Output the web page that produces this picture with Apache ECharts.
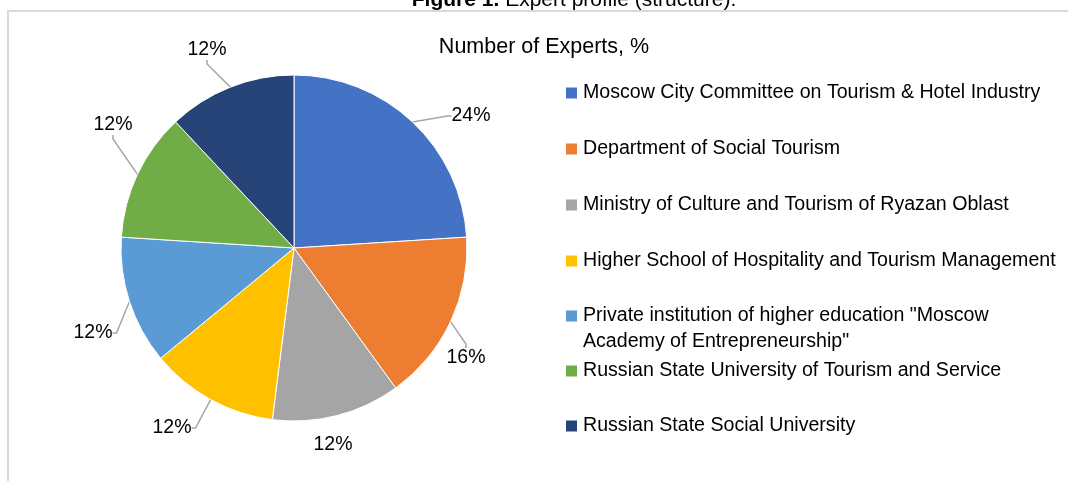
<!DOCTYPE html>
<html lang="en">
<head>
    <meta charset="UTF-8">
    <title>Expert profile</title>
    <script type="text/javascript" src="https://cdn.jsdelivr.net/npm/echarts@6/dist/echarts.min.js"></script>
    <style>
        html, body { margin: 0; padding: 0; background: #fff; }
    </style>
</head>
<body>
<div id="main" style="width: 1068px;height:481px;"></div>
<script>
    // organisations and their share of experts, %
    var orgs = [
        'Moscow City Committee on Tourism & Hotel Industry',
        'Department of Social Tourism',
        'Ministry of Culture and Tourism of Ryazan Oblast',
        'Higher School of Hospitality and Tourism Management',
        'Private institution of higher education "Moscow Academy of Entrepreneurship"',
        'Russian State University of Tourism and Service',
        'Russian State Social University'
    ];
    var shares = [24, 16, 12, 12, 12, 12, 12];

    var colors = ['#4472C4', '#ED7D31', '#A5A5A5', '#FFC000', '#5B9BD5', '#70AD47', '#264478'];
    // no narrow arial here, so plain Liberation Sans sized to match the widths
    var font = "'Liberation Sans', Arial, sans-serif";

    // where excel put the data labels (label centres)
    var labelSpots = [[471, 116], [466, 358], [333, 445], [172, 428], [93, 333], [113, 125], [207, 50]];

    var pieData = [];
    for (var i = 0; i < orgs.length; i++) {
        var item = { name: orgs[i], value: shares[i] };
        if (i === 2) item.labelLine = { show: false };
        pieData.push(item);
    }

    var legendText = { fontFamily: font, fontSize: 19.6, color: '#000', lineHeight: 26 };

    var option = {
        color: colors,
        animation: false,
        title: {
            text: 'Number of Experts, %',
            left: 544,
            top: 36,
            textAlign: 'center',
            padding: 0,
            textStyle: { fontFamily: font, fontSize: 21.5, fontWeight: 'normal', color: '#000' }
        },
        legend: [
            {
                orient: 'vertical', left: 564, top: 80, padding: 0,
                itemWidth: 13, itemHeight: 13, itemGap: 30, icon: 'rect',
                selectedMode: false,
                data: orgs.slice(0, 4),
                textStyle: legendText
            },
            {
                // blank first line so the square sits beside the first text line
                orient: 'vertical', left: 564, top: 277, padding: 0,
                itemWidth: 13, itemHeight: 13, icon: 'rect',
                selectedMode: false,
                data: orgs.slice(4, 5),
                formatter: function (name) {
                    return ' \n' + name.replace('"Moscow ', '"Moscow\n');
                },
                textStyle: legendText
            },
            {
                orient: 'vertical', left: 564, top: 358, padding: 0,
                itemWidth: 13, itemHeight: 13, itemGap: 29, icon: 'rect',
                selectedMode: false,
                data: orgs.slice(5),
                textStyle: legendText
            }
        ],
        graphic: [
            {
                type: 'rect',
                shape: { x: 8, y: 11, width: 1200, height: 600 },
                style: { fill: 'none', stroke: '#d9d9d9', lineWidth: 2 },
                silent: true
            },
            {
                type: 'text',
                x: 574, y: 0,
                style: {
                    text: '{b|Figure 1.} Expert profile (structure).',
                    font: '21px ' + font,
                    fill: '#000',
                    align: 'center',
                    verticalAlign: 'middle',
                    rich: { b: { fontWeight: 'bold', fontSize: 21, fontFamily: font } }
                },
                silent: true
            }
        ],
        series: [
            {
                name: 'Number of Experts, %',
                type: 'pie',
                center: [294, 248],
                radius: 173,
                startAngle: 90,
                clockwise: true,
                avoidLabelOverlap: false,
                emphasis: { disabled: true },
                itemStyle: { borderColor: '#fff', borderWidth: 1 },
                label: {
                    show: true,
                    position: 'outside',
                    formatter: '{c}%',
                    fontFamily: font,
                    fontSize: 19.5,
                    color: '#000'
                },
                labelLine: {
                    show: true,
                    length: 10,
                    length2: 4,
                    lineStyle: { color: '#a6a6a6', width: 1.5 }
                },
                labelLayout: function (params) {
                    var s = labelSpots[params.dataIndex];
                    return { x: s[0], y: s[1], align: 'center', verticalAlign: 'middle' };
                },
                data: pieData
            }
        ]
    };

    var myChart = echarts.init(document.getElementById('main'));
    myChart.setOption(option);
</script>
</body>
</html>
